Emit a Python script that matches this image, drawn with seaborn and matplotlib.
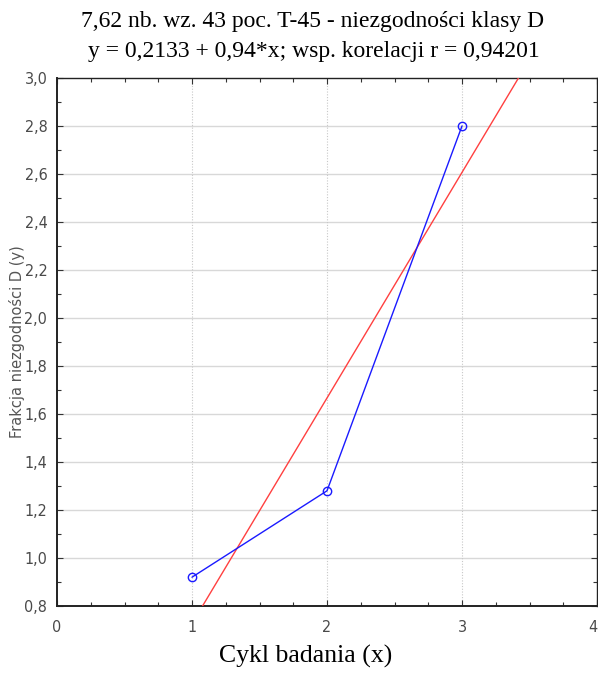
import numpy as np
import pandas as pd
import matplotlib
matplotlib.use("Agg")
import matplotlib.pyplot as plt
import seaborn as sns
from matplotlib.ticker import MultipleLocator, FuncFormatter

# Measurement cycles and nonconformity fraction of class D
cycles = [1, 2, 3]
fraction = [0.92, 1.28, 2.80]

x_ticks = [0, 1, 2, 3, 4]
y_ticks = [0.8, 1.0, 1.2, 1.4, 1.6, 1.8, 2.0, 2.2, 2.4, 2.6, 2.8, 3.0]

title_lines = [
    "7,62 nb. wz. 43 poc. T-45 - niezgodności klasy D",
    "y = 0,2133 + 0,94*x; wsp. korelacji r = 0,94201",
]
x_label = "Cykl badania (x)"
y_label = "Frakcja niezgodności D (y)"

df = pd.DataFrame({"x": cycles, "y": fraction})

sns.set_theme(style="white")
plt.rcParams["font.family"] = ["DejaVu Sans"]

fig = plt.figure(figsize=(5.98, 6.75), dpi=100)
ax = fig.add_axes([57 / 598, 69 / 675, 540 / 598, 528 / 675])

ax.set_xlim(0, 4)
ax.set_ylim(0.8, 3.0)

# Least-squares fit line across the full x range
sns.regplot(data=df, x="x", y="y", ax=ax, scatter=False, ci=None,
            truncate=False, color="#ff4040", line_kws={"lw": 1.0, "zorder": 3})

# Observed series
sns.lineplot(data=df, x="x", y="y", ax=ax, color="#1a1aff", lw=1.0,
             marker="o", markersize=6, markerfacecolor="none",
             markeredgecolor="#1a1aff", markeredgewidth=1.0, zorder=4)

ax.set_xlim(0, 4)
ax.set_ylim(0.8, 3.0)
ax.set_xticks(x_ticks)
ax.set_yticks(y_ticks)
ax.xaxis.set_minor_locator(MultipleLocator(0.25))
ax.yaxis.set_minor_locator(MultipleLocator(0.1))
ax.xaxis.set_major_formatter(FuncFormatter(lambda v, p: f"{v:.0f}"))
ax.yaxis.set_major_formatter(FuncFormatter(lambda v, p: f"{v:.1f}".replace(".", ",")))

ax.tick_params(which="both", direction="in", top=True, right=True,
               bottom=True, left=True, colors="#333333")
ax.tick_params(which="major", length=4, width=0.8, labelsize=11.5,
               labelcolor="#4a4a4a")
ax.tick_params(axis="x", which="major", pad=10)
ax.tick_params(axis="y", which="major", pad=7)
ax.tick_params(which="minor", length=3, width=0.8)
for lbl in ax.get_xticklabels() + ax.get_yticklabels():
    lbl.set_fontstretch("condensed")
ax.get_xticklabels()[-1].set_horizontalalignment("right")

# Horizontal solid and vertical dotted grid lines
for yv in y_ticks[1:-1]:
    ax.axhline(yv, color="#d8d8d8", lw=1.0, zorder=0)
for xv in x_ticks[1:-1]:
    ax.axvline(xv, color="#c8c8c8", lw=0.8, ls=(0, (1, 1.5)), zorder=0)

for side in ["left", "bottom", "top", "right"]:
    ax.spines[side].set_visible(True)
    ax.spines[side].set_color("#222222")
    ax.spines[side].set_linewidth(1.0)
ax.spines["left"].set_linewidth(1.4)
ax.spines["bottom"].set_linewidth(1.4)

ax.set_xlabel("")
ax.set_ylabel("")

serif = ["Liberation Serif", "DejaVu Serif"]
fig.text(313 / 598, 1 - 27 / 675, title_lines[0], ha="center", va="baseline",
         fontsize=17, family=serif, color="#000000")
fig.text(314 / 598, 1 - 57 / 675, title_lines[1], ha="center", va="baseline",
         fontsize=17, family=serif, color="#000000")
fig.text(306 / 598, 1 - 663 / 675, x_label, ha="center", va="baseline",
         fontsize=18.5, family=serif, color="#000000")
fig.text(17 / 598, 1 - 342 / 675, y_label, ha="center", va="center",
         rotation=90, fontsize=10.5, color="#555555", family=["DejaVu Sans"])

fig.savefig("out.png", dpi=100)
